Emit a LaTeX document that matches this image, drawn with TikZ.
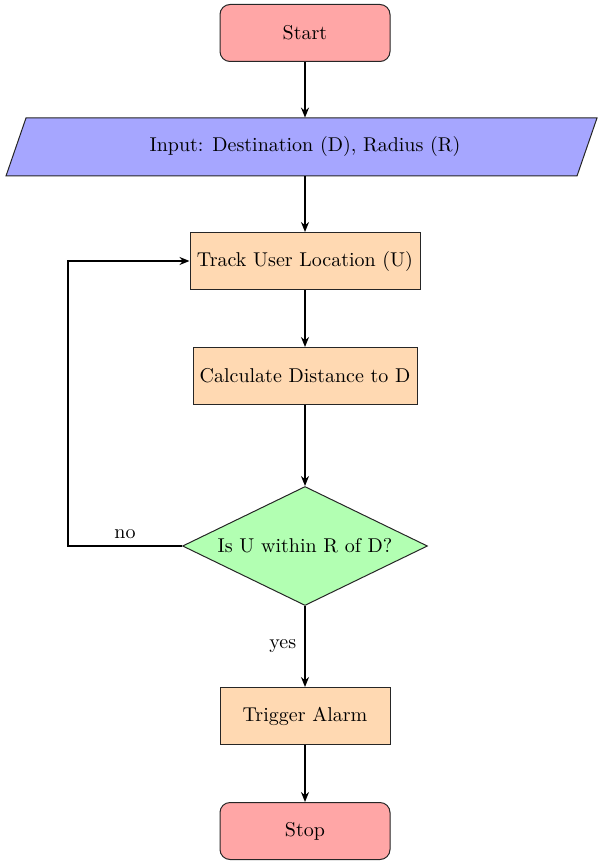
\documentclass[tikz,border=0pt]{standalone}
\usetikzlibrary{shapes.geometric,arrows.meta}
\begin{document}
\begin{tikzpicture}[x=0.5pt,y=-0.5pt,
  boxline/.style={draw=black!85, line width=0.5pt},
  txt/.style={text=black, font=\fontsize{10}{12}\selectfont, inner sep=0pt},
  base/.style={boxline, txt},
  term/.style={base, rounded corners=5pt, fill=red!35, minimum width=85pt, minimum height=28.5pt},
  proc/.style={base, fill=orange!30, minimum height=28.5pt},
  dec/.style={base, diamond, shape aspect=2.06, fill=green!30, minimum width=122.5pt, minimum height=59.5pt},
  conn/.style={line width=0.8pt, -{Stealth[length=5pt,width=4pt]}},
  lbl/.style={font=\fontsize{10}{12}\selectfont, text=black}]
\useasboundingbox (0,0) rectangle (598,861);

\node[term] (start) at (305,33) {Start};
\draw[boxline, fill=blue!35] (6,176) -- (26,118) -- (597,118) -- (577,176) -- cycle;
\node[txt, minimum height=29pt] (in) at (305,147) {Input: Destination (D), Radius (R)};
\node[proc, minimum width=115pt] (track) at (305,261) {Track User Location (U)};
\node[proc, minimum width=112pt] (calc) at (305,376) {Calculate Distance to D};
\node[dec] (dec) at (305,546) {Is U within R of D?};
\node[proc, minimum width=85pt] (trig) at (305,716) {Trigger Alarm};
\node[term] (stop) at (305,831) {Stop};

\coordinate (c1) at (68,546);
\coordinate (c2) at (68,261);

\draw[conn] (start) -- (in);
\draw[conn] (in) -- (track);
\draw[conn] (track) -- (calc);
\draw[conn] (calc) -- (dec);
\draw[conn] (dec) -- node[lbl, left, inner sep=4pt] {yes} (trig);
\draw[conn] (trig) -- (stop);
\draw[conn] (dec.west) -- node[lbl, above, inner sep=3pt] {no} (c1) -- (c2) -- (track.west);
\end{tikzpicture}
\end{document}
